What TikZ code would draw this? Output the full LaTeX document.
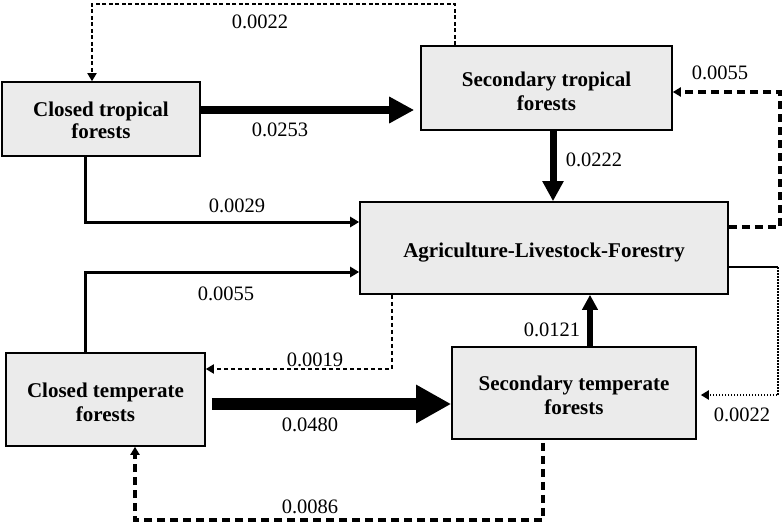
\documentclass[tikz,border=0pt]{standalone}
\usepackage{fontspec}
\setmainfont{Liberation Serif}
\usetikzlibrary{arrows.meta}
\definecolor{boxgray}{HTML}{EBEBEB}
\tikzset{
  box/.style={draw, line width=1.6pt, fill=boxgray, align=center, inner sep=0pt,
    font=\fontsize{21}{24}\selectfont\bfseries},
  num/.style={font=\fontsize{20.5}{24}\selectfont, inner sep=0pt},
  smalltip/.style={-{Triangle[length=8pt,width=9pt]}},
  solidflow/.style={line width=3pt, -{Triangle[length=9pt,width=10pt]}},
  dashflow/.style={line width=1.8pt, dash pattern=on 4pt off 3pt, smalltip},
  dotflow/.style={line width=2pt, dash pattern=on 1.5pt off 1.5pt, smalltip},
  heavydash/.style={line width=3.5pt, dash pattern=on 8pt off 5pt, smalltip},
}
\begin{document}
\begin{tikzpicture}[x=1pt, y=-1pt]
\useasboundingbox (0,0) rectangle (782,525);
\node[box, minimum width=198pt, minimum height=74pt] (ctf) at (101,119) {\raisebox{-2pt}[\height][\depth]{Closed tropical}\\forests};
\node[box, minimum width=251pt, minimum height=84pt] (stf) at (546.5,88) {\raisebox{-3pt}[\height][\depth]{Secondary tropical}\\\raisebox{-3pt}[\height][\depth]{forests}};
\node[box, minimum width=368pt, minimum height=92pt] (alf) at (544,248) {\raisebox{-5pt}[\height][\depth]{Agriculture-Livestock-Forestry}};
\node[box, minimum width=199pt, minimum height=93pt] (ctef) at (105.5,399.5) {\raisebox{-3pt}[\height][\depth]{Closed temperate}\\\raisebox{-3pt}[\height][\depth]{forests}};
\node[box, minimum width=244pt, minimum height=92pt] (stef) at (574,393) {\raisebox{-2pt}[\height][\depth]{Secondary temperate}\\\raisebox{-2pt}[\height][\depth]{forests}};
\draw[line width=8pt, -{Triangle[length=25pt,width=25pt]}, shorten >=6pt] (ctf.east |- 0,110) -- (stf.west |- 0,110);
\draw[line width=7pt, -{Triangle[length=20pt,width=20pt]}] (stf.south -| 553,0) -- (alf.north -| 553,0);
\draw[line width=12pt, -{Triangle[length=35pt,width=36pt]}, shorten <=6pt] (ctef.east |- 0,404) -- (stef.west |- 0,404);
\draw[line width=5.5pt, -{Triangle[length=15pt,width=15pt]}] (stef.north -| 590,0) -- (alf.south -| 590,0);
\draw[dashflow, dash pattern=on 4pt off 2.5pt] (stf.north -| 455,0) -- (455,4) -| (ctf.north -| 92,0);
\draw[solidflow] (ctf.south -| 85,0) |- (alf.west |- 0,222);
\draw[solidflow] (ctef.north -| 85,0) |- (alf.west |- 0,272);
\draw[dashflow] (alf.south -| 392,0) |- (ctef.east |- 0,369);
\draw[line width=2pt] (alf.east |- 0,267) -- (778,267) coordinate (rturn);
\draw[dotflow, shorten >=4pt] (rturn) |- (stef.east |- 0,395);
\draw[heavydash] (alf.east |- 0,227) -- (780,227) |- (stf.east |- 0,92);
\draw[heavydash] (stef.south -| 543,0) ++(0,3) -- (543,520) -| (ctef.south -| 135,0);
\node[num] (l0022a) at (260,22) {0.0022};
\node[num] (l0253) at (280,130) {0.0253};
\node[num] (l0055a) at (720,73) {0.0055};
\node[num] (l0222) at (594,160) {0.0222};
\node[num] (l0029) at (237,206) {0.0029};
\node[num] (l0055b) at (226,294) {0.0055};
\node[num] (l0019) at (315,360) {0.0019};
\node[num] (l0121) at (552,330) {0.0121};
\node[num] (l0480) at (310,425) {0.0480};
\node[num] (l0022b) at (742,415) {0.0022};
\node[num] (l0086) at (310,507) {0.0086};
\end{tikzpicture}
\end{document}
